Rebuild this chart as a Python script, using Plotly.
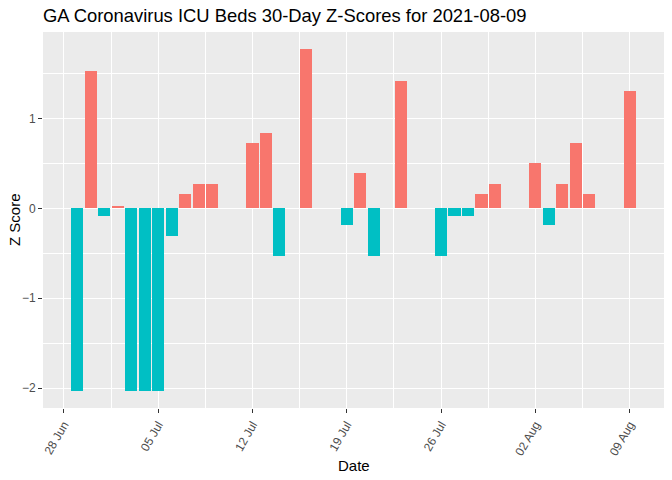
import plotly.graph_objects as go

dates = ["2021-06-29", "2021-06-30", "2021-07-01", "2021-07-02", "2021-07-03",
         "2021-07-04", "2021-07-05", "2021-07-06", "2021-07-07", "2021-07-08",
         "2021-07-09", "2021-07-12", "2021-07-13", "2021-07-14", "2021-07-15",
         "2021-07-16", "2021-07-19", "2021-07-20", "2021-07-21", "2021-07-22",
         "2021-07-23", "2021-07-26", "2021-07-27", "2021-07-28", "2021-07-29",
         "2021-07-30", "2021-08-02", "2021-08-03", "2021-08-04", "2021-08-05",
         "2021-08-06", "2021-08-09"]
z_scores = [-2.03, 1.53, -0.08, 0.03, -2.03,
            -2.03, -2.03, -0.31, 0.16, 0.27,
            0.27, 0.73, 0.84, -0.53, 0.0,
            1.77, -0.19, 0.39, -0.53, 0.0,
            1.42, -0.53, -0.08, -0.08, 0.16,
            0.27, 0.50, -0.19, 0.27, 0.73,
            0.16, 1.30]
tick_dates = ["2021-06-28", "2021-07-05", "2021-07-12", "2021-07-19",
              "2021-07-26", "2021-08-02", "2021-08-09"]
tick_labels = ["28 Jun", "05 Jul", "12 Jul", "19 Jul", "26 Jul", "02 Aug", "09 Aug"]

POS = "#F8766D"
NEG = "#00BFC4"
colors = [POS if v > 0 else NEG for v in z_scores]

DAY = 86400000
fig = go.Figure(go.Bar(
    x=dates, y=z_scores, marker=dict(color=colors, line=dict(width=0)),
    width=[0.9 * DAY] * len(dates), showlegend=False, hoverinfo="skip",
))

font = "Liberation Sans, Arial, sans-serif"
fig.update_layout(
    width=672, height=480,
    margin=dict(l=43, r=8, t=32, b=72, autoexpand=False),
    paper_bgcolor="white", plot_bgcolor="#EBEBEB",
    font=dict(family=font, color="black"),
    title=dict(text="GA Coronavirus ICU Beds 30-Day Z-Scores for 2021-08-09",
               x=43 / 672, xref="container", xanchor="left",
               y=1 - 16 / 480, yref="container", yanchor="middle",
               font=dict(size=18.4, color="black")),
    bargap=0,
    annotations=[
        dict(text="Date", xref="paper", yref="paper", x=0.5, y=-(465 - 408) / 376,
             xanchor="center", yanchor="middle", showarrow=False,
             font=dict(size=15, color="black")),
        dict(text="Z Score", xref="paper", yref="paper",
             x=-(43 - 14) / 621, y=0.5, textangle=-90,
             xanchor="center", yanchor="middle", showarrow=False,
             font=dict(size=15, color="black")),
    ],
)
fig.update_xaxes(
    type="date", automargin=False,
    range=["2021-06-26 10:50", "2021-08-11 13:10"],
    tickmode="array", tickvals=tick_dates, ticktext=tick_labels,
    tickangle=-60, tickfont=dict(size=12, color="#4D4D4D"),
    ticks="outside", ticklen=4, tickcolor="#333333", tickwidth=1,
    showgrid=True, gridcolor="white", gridwidth=1.4,
    minor=dict(showgrid=True, gridcolor="white", gridwidth=0.7,
               tick0="2021-06-24 12:00", dtick=7 * DAY),
    zeroline=False, showline=False,
)
fig.update_yaxes(
    automargin=False,
    range=[-2.22, 1.96],
    tickmode="array", tickvals=[-2, -1, 0, 1],
    tickfont=dict(size=12, color="#4D4D4D"),
    ticks="outside", ticklen=4, tickcolor="#333333", tickwidth=1,
    showgrid=True, gridcolor="white", gridwidth=1.4,
    minor=dict(showgrid=True, gridcolor="white", gridwidth=0.7,
               tickvals=[-1.5, -0.5, 0.5, 1.5]),
    zeroline=False, showline=False,
)

fig.write_html("out.html", config={"displayModeBar": False},
               post_script="document.body.style.margin='0';document.body.style.padding='0';")
